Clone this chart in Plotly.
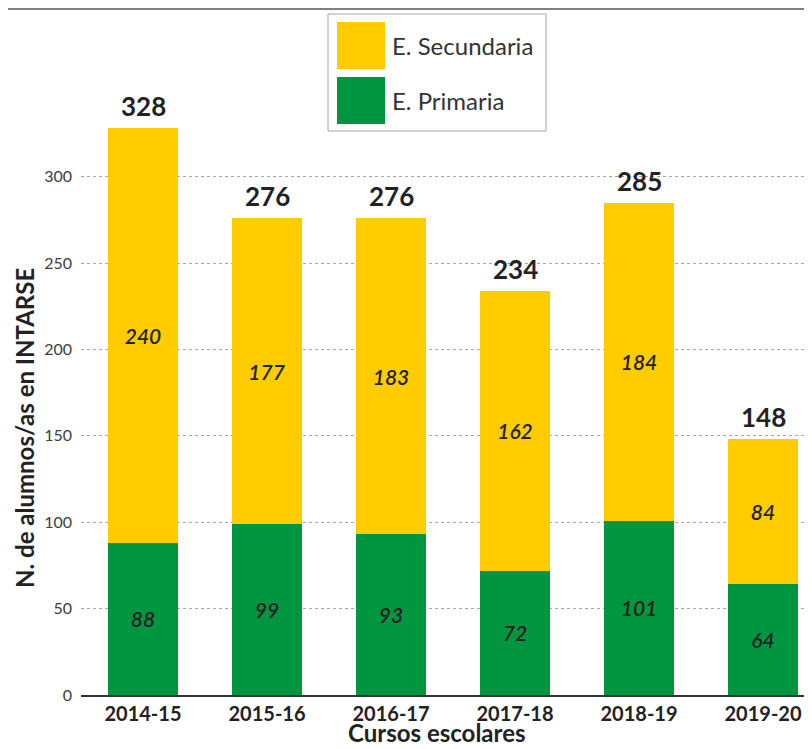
import plotly.graph_objects as go

cursos = ["2014-15", "2015-16", "2016-17", "2017-18", "2018-19", "2019-20"]
primaria = [88, 99, 93, 72, 101, 64]
secundaria = [240, 177, 183, 162, 184, 84]
totales = [p + s for p, s in zip(primaria, secundaria)]
y_ticks = [0, 50, 100, 150, 200, 250, 300]

VERDE = "#00963F"
AMARILLO = "#FFCC00"
FONT = "Lato"

fig = go.Figure()

fig.add_trace(go.Bar(
    x=cursos, y=primaria, name="E. Primaria",
    marker_color=VERDE, marker_line_width=0,
    width=0.565,
    text=primaria, textposition="inside", insidetextanchor="middle",
    textfont=dict(family=FONT, size=21, color="#222222", style="italic", weight=600),
    showlegend=False,
))
fig.add_trace(go.Bar(
    x=cursos, y=secundaria, name="E. Secundaria",
    marker_color=AMARILLO, marker_line_width=0,
    width=0.565,
    text=secundaria, textposition="inside", insidetextanchor="middle",
    textfont=dict(family=FONT, size=21, color="#222222", style="italic", weight=600),
    showlegend=False,
))

# the page body adds an 8px offset, so the figure is 804x741 and
# positions below are given in screen pixels of the final picture
def py(p):
    return (695 - p) / 687

def px_(p):
    return (p - 81) / 731

shapes = [
    dict(type="rect", xref="paper", yref="paper",
         x0=px_(328), x1=px_(546), y0=py(131), y1=py(14),
         line=dict(color="#A6A6A6", width=1), fillcolor="white", layer="above"),
    dict(type="rect", xref="paper", yref="paper",
         x0=px_(337), x1=px_(385), y0=py(69), y1=py(22),
         line=dict(width=0), fillcolor=AMARILLO, layer="above"),
    dict(type="rect", xref="paper", yref="paper",
         x0=px_(337), x1=px_(385), y0=py(124), y1=py(77),
         line=dict(width=0), fillcolor=VERDE, layer="above"),
    dict(type="line", xref="paper", yref="paper",
         x0=px_(8), x1=1, y0=py(9), y1=py(9),
         line=dict(color="#808080", width=2)),
]

# totals above each bar
annotations = [
    dict(x=c, y=t, text=str(t), showarrow=False, xanchor="center", yanchor="bottom",
         yshift=4, font=dict(family=FONT, size=26, color="#222222", weight="bold"))
    for c, t in zip(cursos, totales)
]
annotations += [
    dict(xref="paper", yref="paper", x=px_(390), y=py(46), text="E. Secundaria",
         showarrow=False, xanchor="left", yanchor="middle",
         font=dict(family=FONT, size=24, color="#333333")),
    dict(xref="paper", yref="paper", x=px_(390), y=py(101), text="E. Primaria",
         showarrow=False, xanchor="left", yanchor="middle",
         font=dict(family=FONT, size=24, color="#333333")),
    # axis titles
    dict(xref="paper", yref="paper", x=px_(437), y=py(749), text="Cursos escolares",
         showarrow=False, xanchor="center", yanchor="bottom",
         font=dict(family=FONT, size=24, color="#222222", weight="bold")),
    dict(xref="paper", yref="paper", x=px_(24), y=py(428), text="N. de alumnos/as en INTARSE",
         showarrow=False, xanchor="center", yanchor="middle", textangle=-90,
         font=dict(family=FONT, size=24, color="#222222", weight="bold")),
]

fig.update_layout(
    width=804, height=741,
    margin=dict(l=73, r=0, t=0, b=54, autoexpand=False),
    barmode="stack",
    plot_bgcolor="white", paper_bgcolor="white",
    font=dict(family=FONT, color="#404040"),
    shapes=shapes, annotations=annotations,
    xaxis=dict(
        range=[-0.5, 5.395], automargin=False,
        showgrid=False, showline=True, linecolor="#333333", linewidth=2,
        ticks="", tickfont=dict(family=FONT, size=20, color="#222222", weight="bold"),
    ),
    yaxis=dict(
        range=[0, 687 / 1.7275], tickvals=y_ticks, automargin=False,
        showgrid=True, gridcolor="#A6A6A6", griddash="dot", gridwidth=1,
        zeroline=False, showline=False, ticks="", ticklabelstandoff=8,
        tickfont=dict(family=FONT, size=16, color="#404040"),
    ),
)

fig.write_html("out.html")
